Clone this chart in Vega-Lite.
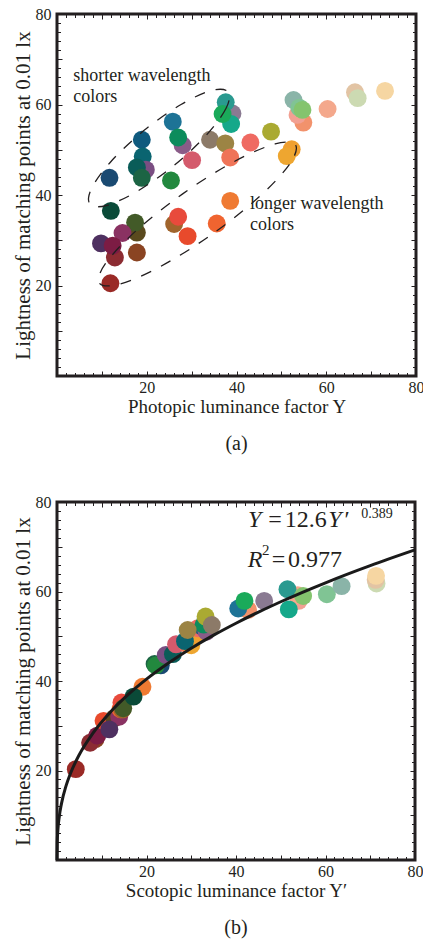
{
  "$schema": "https://vega.github.io/schema/vega-lite/v6.json",
  "padding": {"left": 10, "top": 4, "right": 0, "bottom": 0},
  "background": "white",
  "config": {
    "view": {"stroke": "#231f20", "strokeWidth": 3},
    "font": "Liberation Serif",
    "axis": {"domain": false, "grid": false, "labelFont": "Liberation Serif", "labelFontSize": 16, "labelColor": "#231f20", "tickColor": "#231f20", "tickWidth": 1, "titleFont": "Liberation Serif", "titleFontWeight": "normal", "titleColor": "#231f20", "labelFlush": false},
    "title": {"font": "Liberation Serif", "fontSize": 20, "fontWeight": "normal", "color": "#231f20", "offset": 18},
    "text": {"font": "Liberation Serif", "color": "#231f20"}
  },
  "datasets": {
    "ptsA": [
      {"sample": "s2", "x": 39.1, "y": 58.0}, {"sample": "s1", "x": 37.6, "y": 60.5}, {"sample": "s4", "x": 38.8, "y": 55.7}, {"sample": "s3", "x": 36.9, "y": 57.9},
      {"sample": "s5", "x": 25.8, "y": 56.2}, {"sample": "s7", "x": 28.0, "y": 51.0}, {"sample": "s6", "x": 27.0, "y": 52.7}, {"sample": "s8", "x": 30.1, "y": 47.7},
      {"sample": "s9", "x": 34.1, "y": 52.2}, {"sample": "s10", "x": 37.5, "y": 51.4}, {"sample": "s11", "x": 38.6, "y": 48.3}, {"sample": "s12", "x": 43.1, "y": 51.6},
      {"sample": "s13", "x": 47.7, "y": 54.0}, {"sample": "s14b", "x": 52.3, "y": 50.1}, {"sample": "s14a", "x": 51.2, "y": 48.6}, {"sample": "s15", "x": 18.9, "y": 52.2},
      {"sample": "s16", "x": 19.1, "y": 48.5}, {"sample": "s17p", "x": 19.8, "y": 45.6}, {"sample": "s17", "x": 17.8, "y": 46.1}, {"sample": "s18", "x": 18.9, "y": 43.8},
      {"sample": "s19", "x": 11.7, "y": 43.8}, {"sample": "s20", "x": 25.4, "y": 43.2}, {"sample": "s21", "x": 12.0, "y": 36.5}, {"sample": "s22", "x": 38.6, "y": 38.7},
      {"sample": "s23b", "x": 26.1, "y": 33.6}, {"sample": "s23", "x": 27.0, "y": 35.2}, {"sample": "s24", "x": 35.6, "y": 33.7}, {"sample": "s25", "x": 29.1, "y": 30.9},
      {"sample": "s26b", "x": 17.8, "y": 31.7}, {"sample": "s26", "x": 17.4, "y": 33.9}, {"sample": "s27", "x": 14.6, "y": 31.6}, {"sample": "s31", "x": 17.8, "y": 27.3},
      {"sample": "s30", "x": 12.9, "y": 26.2}, {"sample": "s28", "x": 9.8, "y": 29.3}, {"sample": "s29", "x": 12.4, "y": 28.8}, {"sample": "s32", "x": 11.9, "y": 20.5},
      {"sample": "s33", "x": 52.7, "y": 61.0}, {"sample": "s35", "x": 54.9, "y": 56.0}, {"sample": "s34", "x": 53.6, "y": 57.7}, {"sample": "s41", "x": 54.0, "y": 59.3},
      {"sample": "s36", "x": 54.7, "y": 58.8}, {"sample": "s37", "x": 60.3, "y": 59.0}, {"sample": "s38", "x": 66.4, "y": 62.7}, {"sample": "s39", "x": 67.0, "y": 61.4},
      {"sample": "s40", "x": 73.1, "y": 63.0}
    ],
    "ptsB": [
      {"sample": "s32", "x": 4.2, "y": 20.3}, {"sample": "s31", "x": 8.6, "y": 27.0}, {"sample": "s30", "x": 7.4, "y": 26.2}, {"sample": "s29", "x": 9.0, "y": 27.8},
      {"sample": "s25", "x": 10.4, "y": 31.1}, {"sample": "s26b", "x": 12.8, "y": 31.7}, {"sample": "s27", "x": 13.9, "y": 32.0}, {"sample": "s28", "x": 11.7, "y": 29.2},
      {"sample": "s24", "x": 14.2, "y": 33.7}, {"sample": "s23b", "x": 14.6, "y": 33.6}, {"sample": "s23", "x": 14.4, "y": 35.2}, {"sample": "s26", "x": 14.8, "y": 33.9},
      {"sample": "s22", "x": 19.1, "y": 38.7}, {"sample": "s21", "x": 17.1, "y": 36.5}, {"sample": "s19", "x": 23.2, "y": 43.5}, {"sample": "s18", "x": 21.8, "y": 43.8},
      {"sample": "s20", "x": 22.1, "y": 43.5}, {"sample": "s17p", "x": 24.3, "y": 45.8}, {"sample": "s17", "x": 25.9, "y": 46.0}, {"sample": "s8", "x": 26.6, "y": 48.2},
      {"sample": "s11", "x": 29.0, "y": 48.3}, {"sample": "s14a", "x": 30.0, "y": 48.0}, {"sample": "s14b", "x": 30.8, "y": 50.0}, {"sample": "s16", "x": 28.6, "y": 48.9},
      {"sample": "s12", "x": 31.5, "y": 51.8}, {"sample": "s15", "x": 32.6, "y": 52.0}, {"sample": "s7", "x": 33.4, "y": 51.0}, {"sample": "s6", "x": 32.8, "y": 52.6},
      {"sample": "s13", "x": 33.2, "y": 54.4}, {"sample": "s10", "x": 29.2, "y": 51.4}, {"sample": "s9", "x": 34.6, "y": 52.5}, {"sample": "s35", "x": 42.7, "y": 55.9},
      {"sample": "s5", "x": 40.5, "y": 56.2}, {"sample": "s3", "x": 41.9, "y": 57.9}, {"sample": "s2", "x": 46.3, "y": 57.9}, {"sample": "s34", "x": 54.0, "y": 57.9},
      {"sample": "s37", "x": 53.8, "y": 59.2}, {"sample": "s1", "x": 51.5, "y": 60.5}, {"sample": "s4", "x": 51.8, "y": 56.0}, {"sample": "s36", "x": 55.0, "y": 59.0},
      {"sample": "s41", "x": 60.3, "y": 59.4}, {"sample": "s33", "x": 63.6, "y": 61.2}, {"sample": "s39", "x": 71.4, "y": 61.8}, {"sample": "s38", "x": 71.2, "y": 62.6},
      {"sample": "s40", "x": 71.3, "y": 63.5}
    ],
    "ellipse": [
      {"g": "e1", "t": 0, "x": 38.11, "y": 62.78}, {"g": "e1", "t": 30, "x": 37.68, "y": 59.16}, {"g": "e1", "t": 60, "x": 33.21, "y": 53.15}, {"g": "e1", "t": 90, "x": 25.95, "y": 46.43},
      {"g": "e1", "t": 120, "x": 17.80, "y": 40.77}, {"g": "e1", "t": 150, "x": 11.00, "y": 37.68}, {"g": "e1", "t": 180, "x": 7.33, "y": 37.99}, {"g": "e1", "t": 210, "x": 7.77, "y": 41.61},
      {"g": "e1", "t": 240, "x": 12.23, "y": 47.62}, {"g": "e1", "t": 270, "x": 19.49, "y": 54.34}, {"g": "e1", "t": 300, "x": 27.64, "y": 60.0}, {"g": "e1", "t": 330, "x": 34.45, "y": 63.09},
      {"g": "e2", "t": 0, "x": 53.14, "y": 51.07}, {"g": "e2", "t": 30, "x": 51.80, "y": 46.78}, {"g": "e2", "t": 60, "x": 44.99, "y": 39.54}, {"g": "e2", "t": 90, "x": 34.50, "y": 31.29},
      {"g": "e2", "t": 120, "x": 23.14, "y": 24.24}, {"g": "e2", "t": 150, "x": 13.99, "y": 20.31}, {"g": "e2", "t": 180, "x": 9.44, "y": 20.53}, {"g": "e2", "t": 210, "x": 10.78, "y": 24.82},
      {"g": "e2", "t": 240, "x": 17.59, "y": 32.07}, {"g": "e2", "t": 270, "x": 28.08, "y": 40.31}, {"g": "e2", "t": 300, "x": 39.44, "y": 47.36}, {"g": "e2", "t": 330, "x": 48.60, "y": 51.29}
    ],
    "notes": [
      {"id": "short", "label": "shorter wavelength\ncolors", "x": 3.6, "y": 65.2},
      {"id": "long", "label": "longer wavelength\ncolors", "x": 43.0, "y": 36.9}
    ],
    "curve": [
      {"x": 0, "y": 0}, {"x": 0.05, "y": 3.93}, {"x": 0.2, "y": 6.74}, {"x": 0.5, "y": 9.62}, {"x": 1, "y": 12.6}, {"x": 2, "y": 16.5}, {"x": 3, "y": 19.32},
      {"x": 5, "y": 23.57}, {"x": 8, "y": 28.29}, {"x": 12, "y": 33.13}, {"x": 16, "y": 37.05}, {"x": 20, "y": 40.41}, {"x": 25, "y": 44.07}, {"x": 30, "y": 47.32},
      {"x": 35, "y": 50.24}, {"x": 40, "y": 52.91}, {"x": 50, "y": 57.71}, {"x": 60, "y": 61.95}, {"x": 70, "y": 65.78}, {"x": 80, "y": 69.29}
    ],
    "eqItalic": [
      {"t": "Y", "x": 42.7, "y": 74.5}, {"t": "Y", "x": 60.6, "y": 74.5}, {"t": "′", "x": 63.9, "y": 74.5}, {"t": "R", "x": 42.6, "y": 65.5}
    ],
    "eqRoman": [
      {"t": "=", "x": 47.2, "y": 74.5}, {"t": "12.6", "x": 50.9, "y": 74.5}, {"t": "=", "x": 48.0, "y": 65.5}, {"t": "0.977", "x": 51.6, "y": 65.5}
    ],
    "eqSup1": [{"t": "0.389", "x": 68.0, "y": 76.5}],
    "eqSup2": [{"t": "2", "x": 45.8, "y": 68.2}]
  },
  "vconcat": [
    {
      "width": 359,
      "height": 362,
      "title": {"text": "(a)", "orient": "bottom"},
      "resolve": {"axis": {"x": "independent", "y": "independent"}},
      "layer": [
        {
          "data": {"name": "ptsA"},
          "mark": {"type": "circle", "size": 320, "opacity": 1},
          "encoding": {
            "x": {"field": "x", "type": "quantitative", "scale": {"domain": [0, 80], "nice": false}, "axis": {"orient": "bottom", "values": [20, 40, 60, 80], "ticks": false, "labelPadding": 3, "title": "Photopic luminance factor Y", "titleFontSize": 19, "titlePadding": 2}},
            "y": {"field": "y", "type": "quantitative", "scale": {"domain": [0, 80], "nice": false}, "axis": {"orient": "left", "values": [20, 40, 60, 80], "ticks": false, "labelPadding": 6, "title": "Lightness of matching points at 0.01 lx", "titleFontSize": 21, "titlePadding": 2}},
            "color": {"field": "sample", "type": "nominal", "legend": null,
              "scale": {"domain": ["s1","s2","s3","s4","s5","s6","s7","s8","s9","s10","s11","s12","s13","s14a","s14b","s15","s16","s17","s17p","s18","s19","s20","s21","s22","s23","s23b","s24","s25","s26","s26b","s27","s28","s29","s30","s31","s32","s33","s34","s35","s36","s37","s38","s39","s40","s41"],
                "range": ["#2a9a90","#8a7a92","#1aaa5a","#15a88a","#1d7396","#0c8c5c","#8a5c88","#d45a6c","#8c7a68","#9c8444","#ef7458","#ef6a62","#aaaa32","#eea630","#f0a030","#0f5a7e","#0a6470","#0a5c58","#7a4e82","#1c6444","#1a4a72","#22883e","#0a4a38","#ef7a32","#e84a3c","#a0642c","#f06430","#e84a2c","#425a28","#5a4a1e","#8a3262","#4e3060","#7c1c44","#8c2c32","#8a4422","#9a2a26","#8ab4a8","#f2a092","#f2926c","#84c46e","#f4a88c","#e2c4a4","#ccdab2","#f6d6a2","#80c494"]}}
          }
        },
        {
          "data": {"name": "ellipse"},
          "transform": [{"filter": "datum.g === 'e1'"}],
          "mark": {"type": "line", "interpolate": "cardinal-closed", "strokeDash": [11, 11], "strokeWidth": 1.3, "color": "#231f20"},
          "encoding": {
            "x": {"field": "x", "type": "quantitative", "scale": {"domain": [0, 80], "nice": false}, "axis": {"orient": "bottom", "values": [10, 20, 30, 40, 50, 60, 70], "labels": false, "tickSize": -5, "title": null}},
            "y": {"field": "y", "type": "quantitative", "scale": {"domain": [0, 80], "nice": false}, "axis": {"orient": "left", "values": [10, 20, 30, 40, 50, 60, 70], "labels": false, "tickSize": -5, "title": null}},
            "order": {"field": "t", "type": "quantitative"}
          }
        },
        {
          "data": {"name": "ellipse"},
          "transform": [{"filter": "datum.g === 'e2'"}],
          "mark": {"type": "line", "interpolate": "cardinal-closed", "strokeDash": [11, 11], "strokeWidth": 1.3, "color": "#231f20"},
          "encoding": {
            "x": {"field": "x", "type": "quantitative", "scale": {"domain": [0, 80], "nice": false}, "axis": {"orient": "bottom", "values": [2,4,6,8,12,14,16,18,22,24,26,28,32,34,36,38,42,44,46,48,52,54,56,58,62,64,66,68,72,74,76,78], "labels": false, "tickSize": -3.5, "title": null}},
            "y": {"field": "y", "type": "quantitative", "scale": {"domain": [0, 80], "nice": false}, "axis": {"orient": "left", "values": [2,4,6,8,12,14,16,18,22,24,26,28,32,34,36,38,42,44,46,48,52,54,56,58,62,64,66,68,72,74,76,78], "labels": false, "tickSize": -3.5, "title": null}},
            "order": {"field": "t", "type": "quantitative"}
          }
        },
        {
          "data": {"name": "notes"},
          "transform": [{"filter": "datum.id === 'short'"}],
          "mark": {"type": "text", "align": "left", "baseline": "alphabetic", "font": "Liberation Serif", "fontSize": 18, "lineBreak": "\n", "lineHeight": 21, "color": "#231f20"},
          "encoding": {
            "x": {"field": "x", "type": "quantitative", "scale": {"domain": [0, 80], "nice": false}, "axis": {"orient": "top", "values": [10, 20, 30, 40, 50, 60, 70], "labels": false, "tickSize": -5, "title": null}},
            "y": {"field": "y", "type": "quantitative", "scale": {"domain": [0, 80], "nice": false}, "axis": {"orient": "right", "values": [10, 20, 30, 40, 50, 60, 70], "labels": false, "tickSize": -5, "title": null}},
            "text": {"field": "label", "type": "nominal"}
          }
        },
        {
          "data": {"name": "notes"},
          "transform": [{"filter": "datum.id === 'long'"}],
          "mark": {"type": "text", "align": "left", "baseline": "alphabetic", "font": "Liberation Serif", "fontSize": 18, "lineBreak": "\n", "lineHeight": 21, "color": "#231f20"},
          "encoding": {
            "x": {"field": "x", "type": "quantitative", "scale": {"domain": [0, 80], "nice": false}, "axis": {"orient": "top", "values": [2,4,6,8,12,14,16,18,22,24,26,28,32,34,36,38,42,44,46,48,52,54,56,58,62,64,66,68,72,74,76,78], "labels": false, "tickSize": -3.5, "title": null}},
            "y": {"field": "y", "type": "quantitative", "scale": {"domain": [0, 80], "nice": false}, "axis": {"orient": "right", "values": [2,4,6,8,12,14,16,18,22,24,26,28,32,34,36,38,42,44,46,48,52,54,56,58,62,64,66,68,72,74,76,78], "labels": false, "tickSize": -3.5, "title": null}},
            "text": {"field": "label", "type": "nominal"}
          }
        }
      ]
    },
    {
      "width": 358,
      "height": 358,
      "title": {"text": "(b)", "orient": "bottom"},
      "resolve": {"axis": {"x": "independent", "y": "independent"}},
      "layer": [
        {
          "data": {"name": "ptsB"},
          "mark": {"type": "circle", "size": 320, "opacity": 1},
          "encoding": {
            "x": {"field": "x", "type": "quantitative", "scale": {"domain": [0, 80], "nice": false}, "axis": {"orient": "bottom", "values": [20, 40, 60, 80], "ticks": false, "labelPadding": 3, "title": "Scotopic luminance factor Y′", "titleFontSize": 19, "titlePadding": 2}},
            "y": {"field": "y", "type": "quantitative", "scale": {"domain": [0, 80], "nice": false}, "axis": {"orient": "left", "values": [20, 40, 60, 80], "ticks": false, "labelPadding": 6, "title": "Lightness of matching points at 0.01 lx", "titleFontSize": 21, "titlePadding": 2}},
            "color": {"field": "sample", "type": "nominal", "legend": null,
              "scale": {"domain": ["s1","s2","s3","s4","s5","s6","s7","s8","s9","s10","s11","s12","s13","s14a","s14b","s15","s16","s17","s17p","s18","s19","s20","s21","s22","s23","s23b","s24","s25","s26","s26b","s27","s28","s29","s30","s31","s32","s33","s34","s35","s36","s37","s38","s39","s40","s41"],
                "range": ["#2a9a90","#8a7a92","#1aaa5a","#15a88a","#1d7396","#0c8c5c","#8a5c88","#d45a6c","#8c7a68","#9c8444","#ef7458","#ef6a62","#aaaa32","#eea630","#f0a030","#0f5a7e","#0a6470","#0a5c58","#7a4e82","#1c6444","#1a4a72","#22883e","#0a4a38","#ef7a32","#e84a3c","#a0642c","#f06430","#e84a2c","#425a28","#5a4a1e","#8a3262","#4e3060","#7c1c44","#8c2c32","#8a4422","#9a2a26","#8ab4a8","#f2a092","#f2926c","#84c46e","#f4a88c","#e2c4a4","#ccdab2","#f6d6a2","#80c494"]}}
          }
        },
        {
          "data": {"name": "curve"},
          "mark": {"type": "line", "interpolate": "monotone", "strokeWidth": 3, "color": "#1a1a1a"},
          "encoding": {
            "x": {"field": "x", "type": "quantitative", "scale": {"domain": [0, 80], "nice": false}, "axis": {"orient": "bottom", "values": [10, 20, 30, 40, 50, 60, 70], "labels": false, "tickSize": -5, "title": null}},
            "y": {"field": "y", "type": "quantitative", "scale": {"domain": [0, 80], "nice": false}, "axis": {"orient": "left", "values": [10, 20, 30, 40, 50, 60, 70], "labels": false, "tickSize": -5, "title": null}}
          }
        },
        {
          "data": {"name": "eqItalic"},
          "mark": {"type": "text", "align": "left", "baseline": "alphabetic", "font": "Liberation Serif", "fontSize": 24, "fontStyle": "italic", "color": "#231f20"},
          "encoding": {
            "x": {"field": "x", "type": "quantitative", "scale": {"domain": [0, 80], "nice": false}, "axis": {"orient": "bottom", "values": [2,4,6,8,12,14,16,18,22,24,26,28,32,34,36,38,42,44,46,48,52,54,56,58,62,64,66,68,72,74,76,78], "labels": false, "tickSize": -3.5, "title": null}},
            "y": {"field": "y", "type": "quantitative", "scale": {"domain": [0, 80], "nice": false}, "axis": {"orient": "left", "values": [2,4,6,8,12,14,16,18,22,24,26,28,32,34,36,38,42,44,46,48,52,54,56,58,62,64,66,68,72,74,76,78], "labels": false, "tickSize": -3.5, "title": null}},
            "text": {"field": "t", "type": "nominal"}
          }
        },
        {
          "data": {"name": "eqRoman"},
          "mark": {"type": "text", "align": "left", "baseline": "alphabetic", "font": "Liberation Serif", "fontSize": 24, "color": "#231f20"},
          "encoding": {
            "x": {"field": "x", "type": "quantitative", "scale": {"domain": [0, 80], "nice": false}, "axis": {"orient": "top", "values": [10, 20, 30, 40, 50, 60, 70], "labels": false, "tickSize": -5, "title": null}},
            "y": {"field": "y", "type": "quantitative", "scale": {"domain": [0, 80], "nice": false}, "axis": {"orient": "right", "values": [10, 20, 30, 40, 50, 60, 70], "labels": false, "tickSize": -5, "title": null}},
            "text": {"field": "t", "type": "nominal"}
          }
        },
        {
          "data": {"name": "eqSup1"},
          "mark": {"type": "text", "align": "left", "baseline": "alphabetic", "font": "Liberation Serif", "fontSize": 14, "color": "#231f20"},
          "encoding": {
            "x": {"field": "x", "type": "quantitative", "scale": {"domain": [0, 80], "nice": false}, "axis": {"orient": "top", "values": [2,4,6,8,12,14,16,18,22,24,26,28,32,34,36,38,42,44,46,48,52,54,56,58,62,64,66,68,72,74,76,78], "labels": false, "tickSize": -3.5, "title": null}},
            "y": {"field": "y", "type": "quantitative", "scale": {"domain": [0, 80], "nice": false}, "axis": {"orient": "right", "values": [2,4,6,8,12,14,16,18,22,24,26,28,32,34,36,38,42,44,46,48,52,54,56,58,62,64,66,68,72,74,76,78], "labels": false, "tickSize": -3.5, "title": null}},
            "text": {"field": "t", "type": "nominal"}
          }
        },
        {
          "data": {"name": "eqSup2"},
          "mark": {"type": "text", "align": "left", "baseline": "alphabetic", "font": "Liberation Serif", "fontSize": 15, "color": "#231f20"},
          "encoding": {
            "x": {"field": "x", "type": "quantitative", "scale": {"domain": [0, 80], "nice": false}, "axis": null},
            "y": {"field": "y", "type": "quantitative", "scale": {"domain": [0, 80], "nice": false}, "axis": null},
            "text": {"field": "t", "type": "nominal"}
          }
        }
      ]
    }
  ],
  "spacing": 36
}
